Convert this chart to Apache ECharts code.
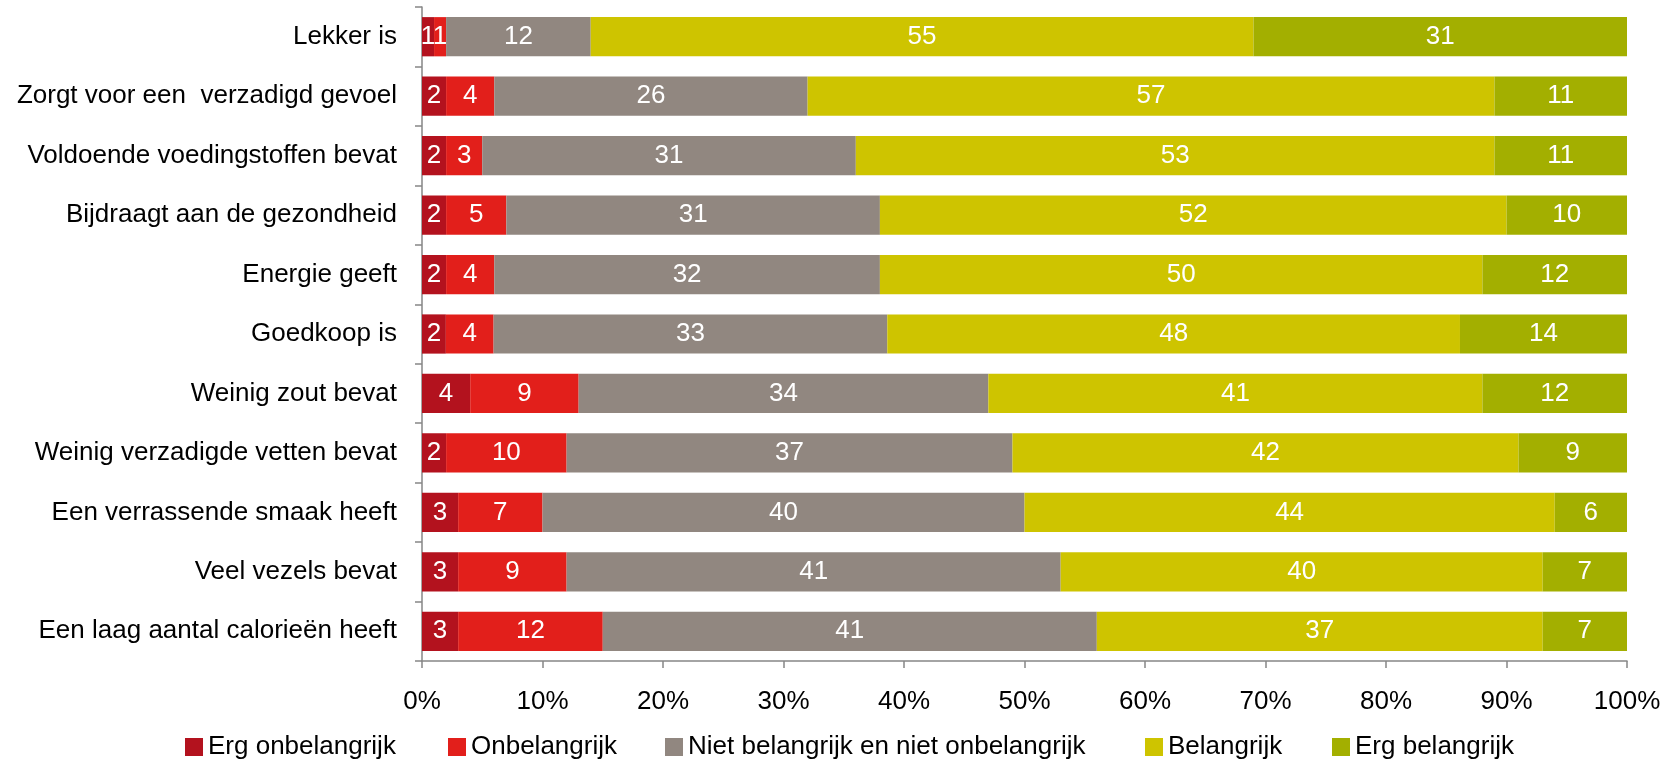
<!DOCTYPE html>
<html>
<head>
<meta charset="utf-8">
<script src="https://cdn.jsdelivr.net/npm/echarts@6/dist/echarts.min.js"></script>
<style>
  html, body { margin: 0; padding: 0; background: #fff; }
  #chart { width: 1675px; height: 763px; }
</style>
</head>
<body>
<div id="chart"></div>
<script>
// Statements, top to bottom
const categories = [
  'Lekker is',
  'Zorgt voor een  verzadigd gevoel',
  'Voldoende voedingstoffen bevat',
  'Bijdraagt aan de gezondheid',
  'Energie geeft',
  'Goedkoop is',
  'Weinig zout bevat',
  'Weinig verzadigde vetten bevat',
  'Een verrassende smaak heeft',
  'Veel vezels bevat',
  'Een laag aantal calorieën heeft'
];

// Answer shares (%) per statement, same order as categories
const ergOnbelangrijk = [1, 2, 2, 2, 2, 2, 4, 2, 3, 3, 3];
const onbelangrijk    = [1, 4, 3, 5, 4, 4, 9, 10, 7, 9, 12];
const neutraal        = [12, 26, 31, 31, 32, 33, 34, 37, 40, 41, 41];
const belangrijk      = [55, 57, 53, 52, 50, 48, 41, 42, 44, 40, 37];
const ergBelangrijk   = [31, 11, 11, 10, 12, 14, 12, 9, 6, 7, 7];

const xTicks = [0, 10, 20, 30, 40, 50, 60, 70, 80, 90, 100];

const seriesNames = [
  'Erg onbelangrijk',
  'Onbelangrijk',
  'Niet belangrijk en niet onbelangrijk',
  'Belangrijk',
  'Erg belangrijk'
];
const seriesValues = [ergOnbelangrijk, onbelangrijk, neutraal, belangrijk, ergBelangrijk];
const colors = ['#B3121E', '#E21F1B', '#918780', '#CEC400', '#A3AF00'];

// Each row is drawn as a 100% stacked bar
const rowTotals = categories.map((_, i) =>
  seriesValues.reduce((s, arr) => s + arr[i], 0));

const FONT = '"Liberation Sans", Arial, sans-serif';

const series = seriesNames.map((name, k) => ({
  name,
  type: 'bar',
  stack: 'total',
  barCategoryGap: '34%',
  itemStyle: { color: colors[k] },
  label: {
    show: true,
    position: 'inside',
    color: '#fff',
    fontFamily: FONT,
    fontSize: 26,
    formatter: p => String(seriesValues[k][p.dataIndex])
  },
  emphasis: { disabled: true },
  data: seriesValues[k].map((v, i) => v * 100 / rowTotals[i])
}));

// One legend block per entry so each sits at its own spot
const legendX = [180, 443, 660, 1140, 1327];
const legends = seriesNames.map((name, k) => ({
  data: [name],
  left: legendX[k],
  top: 729,
  itemWidth: 18,
  itemHeight: 18,
  itemGap: 0,
  icon: 'rect',
  textStyle: { fontFamily: FONT, fontSize: 26, color: '#000' }
}));

const chart = echarts.init(document.getElementById('chart'), null, { renderer: 'canvas' });
chart.setOption({
  animation: false,
  backgroundColor: '#fff',
  color: colors,
  grid: { left: 422, right: 48, top: 7, bottom: 102 },
  legend: legends,
  xAxis: {
    type: 'value',
    min: xTicks[0],
    max: xTicks[xTicks.length - 1],
    interval: xTicks[1] - xTicks[0],
    axisLine: { show: true, lineStyle: { color: '#868686', width: 1.5 } },
    axisTick: { show: true, length: 7, lineStyle: { color: '#868686', width: 1.5 } },
    splitLine: { show: false },
    axisLabel: {
      formatter: '{value}%',
      fontFamily: FONT,
      fontSize: 26,
      color: '#000',
      margin: 28
    }
  },
  yAxis: {
    type: 'category',
    inverse: true,
    data: categories,
    axisLine: { show: true, lineStyle: { color: '#868686', width: 1.5 } },
    axisTick: { show: true, length: 7, lineStyle: { color: '#868686', width: 1.5 } },
    axisLabel: {
      fontFamily: FONT,
      fontSize: 26,
      color: '#000',
      margin: 25
    }
  },
  series
});
</script>
</body>
</html>
